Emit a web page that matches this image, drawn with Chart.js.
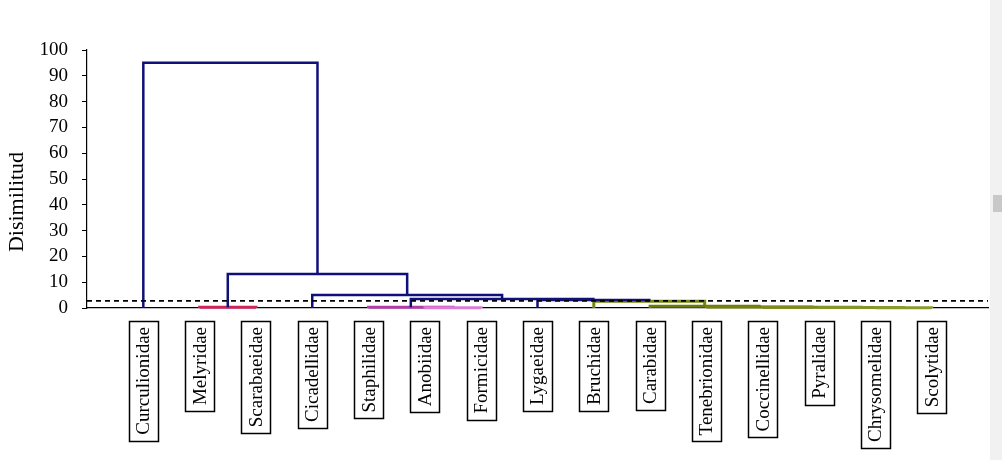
<!DOCTYPE html>
<html>
<head>
<meta charset="utf-8">
<script src="https://cdn.jsdelivr.net/npm/chart.js@4"></script>
<style>
  html, body { margin: 0; padding: 0; background: #fff; }
  #wrap { position: relative; width: 1002px; height: 460px; }
  #bar { position: absolute; right: 0; top: 0; width: 12px; height: 460px; background: #f1f1f1; }
  #thumb { position: absolute; right: 0; top: 195px; width: 9px; height: 17px; background: #c8c8c8; }
</style>
</head>
<body>
<div id="wrap">
  <canvas id="chart"></canvas>
  <div id="bar"><div id="thumb"></div></div>
</div>
<script>
// leaves in dendrogram order
const leaves = ['Curculionidae', 'Melyridae', 'Scarabaeidae', 'Cicadellidae', 'Staphilidae',
  'Anobiidae', 'Formicidae', 'Lygaeidae', 'Bruchidae', 'Carabidae', 'Tenebrionidae',
  'Coccinellidae', 'Pyralidae', 'Chrysomelidae', 'Scolytidae'];

// merges: node id = 15 + merge index
const mergeLeft = [13, 12, 11, 10, 9, 8, 7, 5, 4, 23, 3, 1, 26, 0];
const mergeRight = [14, 15, 16, 17, 18, 19, 20, 6, 22, 21, 24, 2, 25, 27];
const mergeHeight = [0.05, 0.15, 0.25, 0.4, 0.7, 2.6, 3.1, 0.1, 0.25, 3.5, 5.0, 0.25, 13.2, 95.1];

const truncation = 2.8;
const yTicks = [0, 10, 20, 30, 40, 50, 60, 70, 80, 90, 100];

// colours per merge (style only)
const navy = '#10107c';
const mergeColor = ['#8b9a2c', '#869626', '#7d8c18', '#72820a', '#6a7a02', '#768610', navy,
  '#dc7cd5', '#b23ca9', navy, navy, '#d0245a', navy, navy];

const serif = "'Liberation Serif', 'Times New Roman', serif";

// node positions / heights
const nodeX = leaves.map((_, i) => i);
const nodeH = leaves.map(() => 0);
const datasets = [];
mergeLeft.forEach((a, k) => {
  const b = mergeRight[k];
  const h = mergeHeight[k];
  nodeX.push((nodeX[a] + nodeX[b]) / 2);
  nodeH.push(h);
  const col = mergeColor[k];
  const isNavy = col === navy;
  datasets.push({
    data: [
      { x: nodeX[a], y: nodeH[a] },
      { x: nodeX[a], y: h },
      { x: nodeX[b], y: h },
      { x: nodeX[b], y: nodeH[b] }
    ],
    borderColor: col,
    borderWidth: isNavy ? 2.5 : 3,
    order: isNavy ? 0 : 1,
    showLine: true,
    pointRadius: 0,
    borderJoinStyle: 'miter',
    clip: false
  });
});

datasets.push({
  data: [{ x: -1, y: truncation }, { x: 15, y: truncation }],
  borderColor: '#000',
  borderWidth: 1.8,
  borderDash: [5, 4],
  order: -1,
  showLine: true,
  pointRadius: 0,
  clip: false
});

const labelPlugin = {
  id: 'leafLabels',
  afterDraw(chart) {
    const ctx = chart.ctx;
    const xs = chart.scales.x;
    ctx.save();
    ctx.font = '19px ' + serif;
    ctx.fillStyle = '#000';
    ctx.strokeStyle = '#000';
    ctx.lineWidth = 1.5;
    const top = 321;
    leaves.forEach((name, i) => {
      const x = xs.getPixelForValue(i);
      const w = ctx.measureText(name).width;
      ctx.strokeRect(Math.round(x - 14.5) + 0.5, top + 0.5, 29, Math.round(w + 12));
      ctx.save();
      ctx.translate(x + 1, top + 6);
      ctx.rotate(-Math.PI / 2);
      ctx.textAlign = 'right';
      ctx.textBaseline = 'middle';
      ctx.fillText(name, 0, 0);
      ctx.restore();
    });
    // y axis title
    ctx.font = '22px ' + serif;
    ctx.translate(17, 202);
    ctx.rotate(-Math.PI / 2);
    ctx.textAlign = 'center';
    ctx.textBaseline = 'middle';
    ctx.fillText('Disimilitud', 0, 0);
    ctx.restore();
  }
};

new Chart(document.getElementById('chart'), {
  type: 'scatter',
  data: { datasets: datasets },
  plugins: [labelPlugin],
  options: {
    responsive: true,
    maintainAspectRatio: false,
    animation: false,
    layout: { padding: { top: 50, right: 14, bottom: 152, left: 0 } },
    plugins: { legend: { display: false }, tooltip: { enabled: false } },
    scales: {
      x: {
        type: 'linear',
        min: -1,
        max: 15,
        ticks: { display: false },
        grid: { display: false },
        border: { display: true, color: '#000', width: 1.2 },
        afterFit: s => { s.height = 0; }
      },
      y: {
        min: 0,
        max: 100,
        afterBuildTicks: s => { s.ticks = yTicks.map(v => ({ value: v })); },
        ticks: { color: '#000', padding: 14, font: { family: serif, size: 19 } },
        grid: { display: true, drawOnChartArea: false, drawTicks: true, tickLength: 5, color: '#000' },
        border: { display: true, color: '#000', width: 1.2 },
        afterFit: s => { s.width = 87; }
      }
    }
  }
});
</script>
</body>
</html>
